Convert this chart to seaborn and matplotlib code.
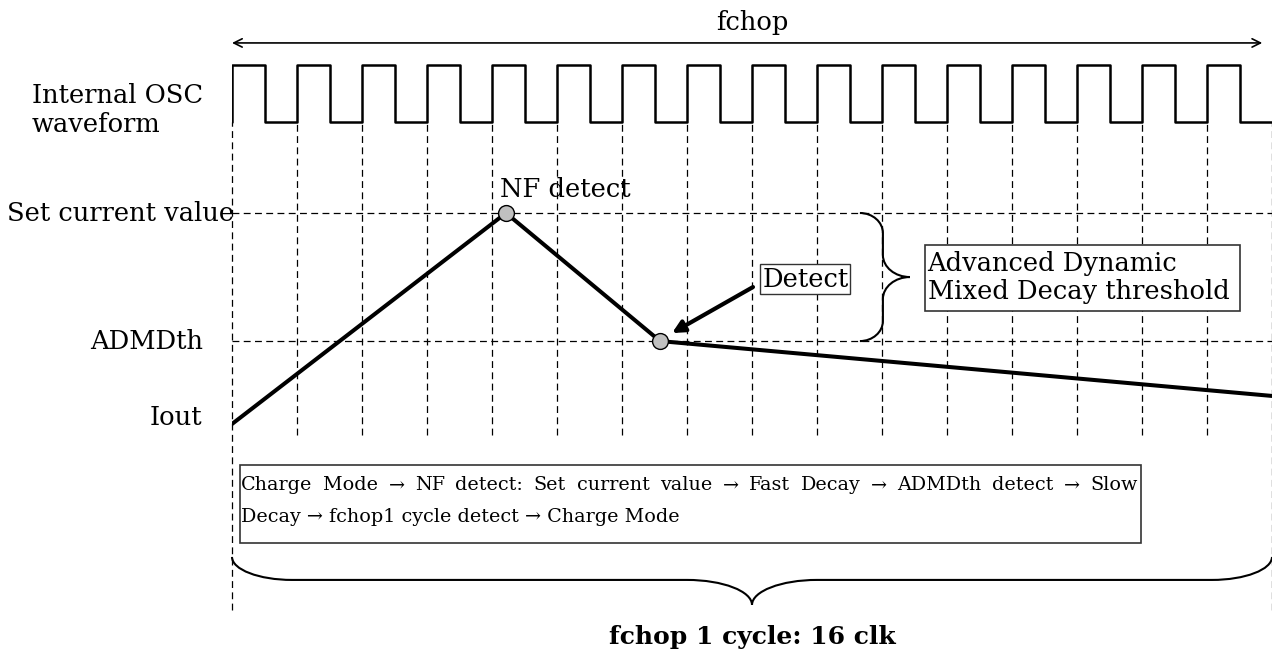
import numpy as np
import pandas as pd
import seaborn as sns
import matplotlib.pyplot as plt
from matplotlib.path import Path
from matplotlib.patches import PathPatch, Rectangle

sns.set_theme(style='white')
plt.rcParams['font.family'] = ['DejaVu Serif']
plt.rcParams['text.color'] = 'black'

# --- data (x in clock periods, y in current units: set current = 1) ---
clk_rise = [0, 1, 2, 3, 4, 5, 6, 7, 8, 9, 10, 11, 12, 13, 14, 15]
clk_fall = [0.5, 1.5, 2.5, 3.5, 4.5, 5.5, 6.5, 7.5, 8.5, 9.5, 10.5, 11.5, 12.5, 13.5, 14.5, 15.5]
clk_end = 16
clk_high = 1.70
clk_low = 1.43

set_level = 1.0
admd_level = 0.393

iout_t = [0.0, 4.215, 6.585, 16.0]
iout_v = [0.0, 1.0, 0.393, 0.133]

event_t = [4.215, 6.585]
event_v = [1.0, 0.393]
event_name = ['NF detect', 'ADMDth detect']

row_labels = ['Set current value', 'ADMDth', 'Iout']
flow_line1 = ('Charge Mode \u2192 NF detect: Set current value \u2192 Fast Decay '
              '\u2192 ADMDth detect \u2192 Slow')
flow_line2 = 'Decay \u2192 fchop1 cycle detect \u2192 Charge Mode'

# --- figure ---
W, H = 1272, 655
fig = plt.figure(figsize=(W / 100, H / 100), dpi=100)
ax = fig.add_axes([232 / W, 0, 1040 / W, 1])
ax.set_xlim(0, 16)
ax.set_ylim(-1.0948, 2.0095)
ax.axis('off')

# clock waveform
ct, cv = [], []
for r, f in zip(clk_rise, clk_fall):
    ct += [r, r, f, f]
    cv += [clk_low, clk_high, clk_high, clk_low]
ct.append(clk_end)
cv.append(clk_low)
clk_df = pd.DataFrame({'t': ct, 'v': cv})
sns.lineplot(data=clk_df, x='t', y='v', estimator=None, sort=False,
             color='black', lw=1.8, ax=ax)

# dashed grid
dash = dict(color='black', lw=0.9, linestyles=(0, (5.5, 3.5)), clip_on=False)
edges = clk_rise + [clk_end]
for k in edges:
    bottom = -0.88 if k in (0, clk_end) else -0.052
    ax.vlines(k, bottom, clk_low, **dash)
ax.hlines([set_level, admd_level], 0, clk_end, **dash)

# Iout
iout_df = pd.DataFrame({'t': iout_t, 'v': iout_v})
sns.lineplot(data=iout_df, x='t', y='v', estimator=None, sort=False,
             color='black', lw=2.9, ax=ax)
ev_df = pd.DataFrame({'t': event_t, 'v': event_v, 'ev': event_name})
sns.scatterplot(data=ev_df, x='t', y='v', s=130, color='#c0c0c0',
                edgecolor='black', linewidth=1, zorder=5, ax=ax, legend=False)

fs = 18.5
# row labels
ax.text(-3.455, set_level, row_labels[0], ha='left', va='center', fontsize=fs)
ax.text(-0.45, admd_level, row_labels[1], ha='right', va='center', fontsize=fs)
ax.text(-0.45, 0.033, row_labels[2], ha='right', va='center', fontsize=fs)
ax.text(-3.08, 1.49, 'Internal OSC\nwaveform', ha='left', va='center',
        fontsize=fs, linespacing=1.2)

# fchop arrow
ax.annotate('', xy=(15.85, 1.806), xytext=(0, 1.806),
            arrowprops=dict(arrowstyle='<->', lw=1.2, color='black',
                            mutation_scale=15, shrinkA=0, shrinkB=0),
            annotation_clip=False)
ax.text(8, 1.905, 'fchop', ha='center', va='center', fontsize=fs)

# NF detect label
ax.text(4.12, 1.11, 'NF detect', ha='left', va='center', fontsize=fs)

# Detect label + arrow
ax.annotate('', xy=(6.77, 0.431), xytext=(8.015, 0.649),
            arrowprops=dict(arrowstyle='-|>', lw=3, color='black',
                            mutation_scale=18, shrinkA=0, shrinkB=0))
ax.text(8.82, 0.687, 'Detect', ha='center', va='center', fontsize=fs,
        bbox=dict(boxstyle='square,pad=0.08', fc='white', ec='#333333', lw=1))

# ADMD threshold box
ax.add_patch(Rectangle((10.66, 0.536), 4.85, 0.312, fc='white', ec='#333333',
                       lw=1.2, zorder=3))
ax.text(10.70, 0.692, 'Advanced Dynamic\nMixed Decay threshold', ha='left',
        va='center', fontsize=fs, linespacing=1.15, zorder=4)

# flow box
ax.add_patch(Rectangle((0.123, -0.564), 13.86, 0.37, fc='white', ec='#333333',
                       lw=1.2, zorder=3, clip_on=False))
fs_small = 13.8
# first line is justified between the box edges
fig.canvas.draw()
renderer = fig.canvas.get_renderer()
words = flow_line1.split(' ')
x_left, x_right = 0.14, 13.94
y1, y2 = -0.289, -0.441
wt = [ax.text(0, y1, w_, ha='left', va='center', fontsize=fs_small, zorder=4)
      for w_ in words]
wpx = [t.get_window_extent(renderer).width for t in wt]
span_px = (x_right - x_left) * 1040 / 16
gap_px = (span_px - sum(wpx)) / (len(words) - 1)
pos = x_left
for t, wp in zip(wt, wpx):
    t.set_x(pos)
    pos += (wp + gap_px) * 16 / 1040
ax.text(x_left, y2, flow_line2, ha='left', va='center', fontsize=fs_small,
        zorder=4)

ax.text(8, -1.009, 'fchop 1 cycle: 16 clk', ha='center', va='center',
        fontsize=18, fontweight='bold')


def brace(start, end, depth, tip, curl, tipcurl, lw=1.5):
    p0 = ax.transData.transform(start)
    p1 = ax.transData.transform(end)
    d = p1 - p0
    L = np.hypot(*d)
    u = d / L
    w = np.array([u[1], -u[0]])
    h = L / 2
    k = 0.45
    local = [(0, 0), (0, (1 - k) * depth), (k * curl, depth), (curl, depth),
             (h - tipcurl, depth),
             (h - k * tipcurl, depth), (h, depth + k * tip), (h, depth + tip),
             (h, depth + k * tip), (h + k * tipcurl, depth), (h + tipcurl, depth),
             (L - curl, depth),
             (L - k * curl, depth), (L, (1 - k) * depth), (L, 0)]
    codes = [Path.MOVETO, Path.CURVE4, Path.CURVE4, Path.CURVE4, Path.LINETO,
             Path.CURVE4, Path.CURVE4, Path.CURVE4,
             Path.CURVE4, Path.CURVE4, Path.CURVE4, Path.LINETO,
             Path.CURVE4, Path.CURVE4, Path.CURVE4]
    pts = np.array([p0 + a * u + b * w for a, b in local])
    pts = ax.transData.inverted().transform(pts)
    ax.add_patch(PathPatch(Path(pts, codes), fc='none', ec='black', lw=lw,
                           clip_on=False, zorder=4))


brace((9.66, admd_level), (9.66, set_level), 23, 27, 20, 22)
brace((0, -0.630), (16, -0.630), 23, 25, 60, 65)

fig.savefig('out.png', dpi=100, facecolor='white')
